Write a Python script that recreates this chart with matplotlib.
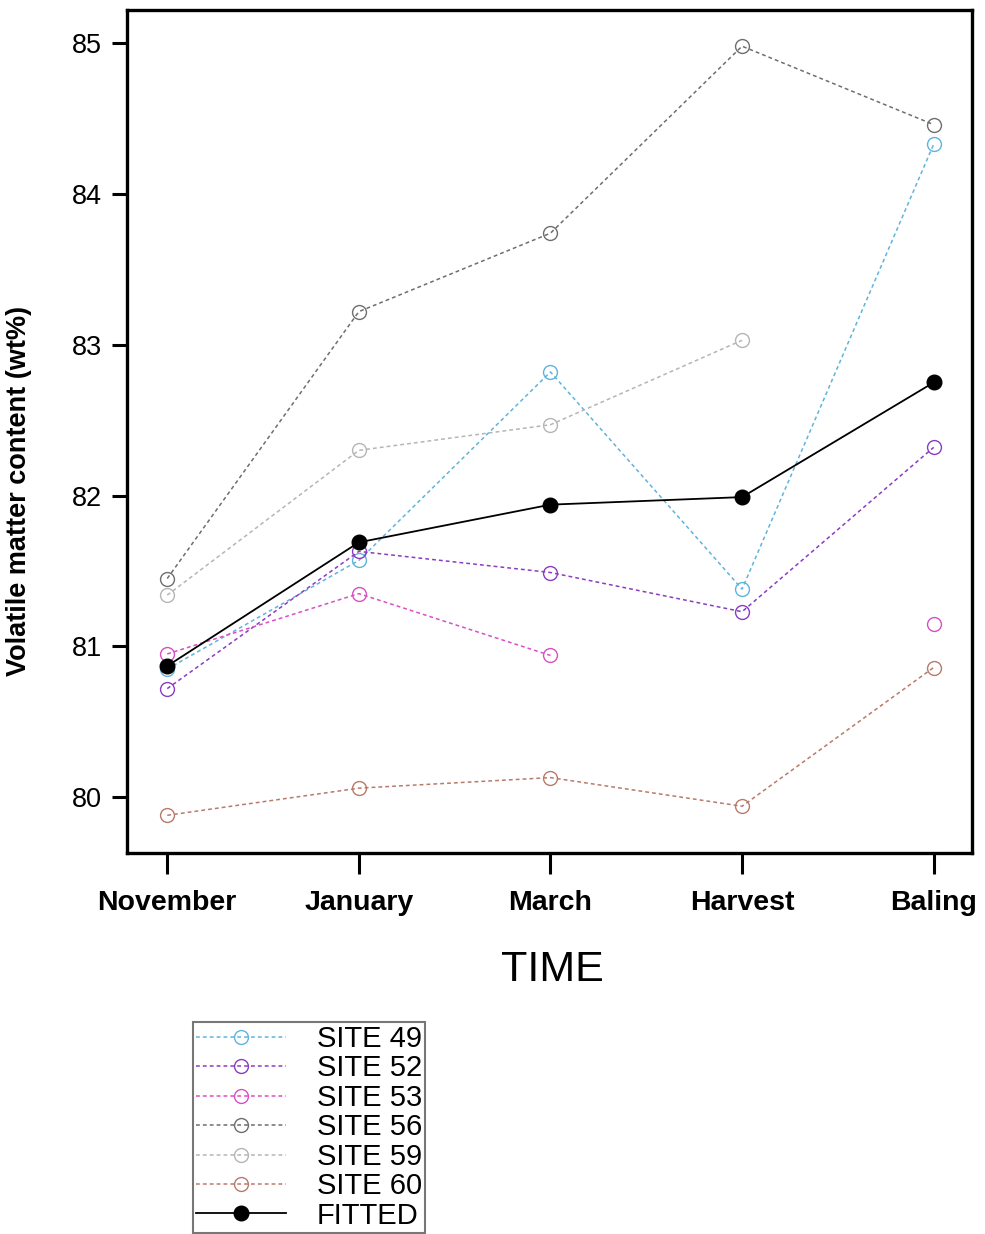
import matplotlib
matplotlib.use("Agg")
import matplotlib.pyplot as plt
import numpy as np

plt.rcParams["font.family"] = ["Liberation Sans", "DejaVu Sans"]

# --------------------------------------------------------------------- data
TIMES = ["November", "January", "March", "Harvest", "Baling"]

SITE_49 = [80.85, 81.57, 82.82, 81.38, 84.33]
SITE_52 = [80.72, 81.63, 81.49, 81.23, 82.32]
SITE_53 = [80.95, 81.35, 80.94, np.nan, 81.15]
SITE_56 = [81.45, 83.22, 83.74, 84.98, 84.46]
SITE_59 = [81.34, 82.30, 82.47, 83.03, np.nan]
SITE_60 = [79.88, 80.06, 80.13, 79.94, 80.86]
FITTED = [80.87, 81.69, 81.94, 81.99, 82.75]

SERIES = [
    ("SITE 49", SITE_49, "#5fb4dc"),
    ("SITE 52", SITE_52, "#8a3cc2"),
    ("SITE 53", SITE_53, "#d94fc4"),
    ("SITE 56", SITE_56, "#6e6e6e"),
    ("SITE 59", SITE_59, "#b5b5b5"),
    ("SITE 60", SITE_60, "#b87a6a"),
]

# ------------------------------------------------------------------- figure
fig = plt.figure(figsize=(9.85, 12.34), dpi=100)
ax = fig.add_axes([127 / 985, 1 - 853 / 1234, (972 - 127) / 985, (853 - 10) / 1234])

x = np.arange(len(TIMES))
for name, vals, col in SERIES:
    ax.plot(x, vals, linestyle=(0, (2.5, 2.0)), linewidth=1.1, color=col,
            marker="o", markersize=10, markerfacecolor="none",
            markeredgecolor=col, markeredgewidth=1.0, label=name)
ax.plot(x, FITTED, color="black", linewidth=1.3, marker="o", markersize=10.5,
        markerfacecolor="black", markeredgecolor="black", label="FITTED")

ax.set_xlim(-0.21, 4.2)
ax.set_ylim(79.63, 85.22)
ax.set_xticks(x)
ax.set_xticklabels(TIMES, fontsize=20.5, fontweight="bold")
ax.set_yticks([80, 81, 82, 83, 84, 85])
ax.tick_params(axis="y", labelsize=19.5, length=11, width=2.2, pad=7)
ax.tick_params(axis="x", length=15, width=2.2, pad=12)
for sp in ax.spines.values():
    sp.set_linewidth(2.4)

ax.set_ylabel("Volatile matter content (wt%)", fontsize=19.5, fontweight="bold")
ax.yaxis.set_label_coords(-0.113, 0.43)
fig.text(552 / 985, 1 - 970 / 1234, "TIME", fontsize=31, ha="center", va="center")

handles, labels = ax.get_legend_handles_labels()
leg = fig.legend(handles, labels, loc="upper left",
                 bbox_to_anchor=(193 / 985, 1 - 1022 / 1234),
                 fontsize=21, frameon=True, fancybox=False, edgecolor="#555555",
                 handlelength=3.1, handletextpad=1.05, labelspacing=0.05,
                 borderpad=0.1, borderaxespad=0, markerscale=1.0)
leg.get_frame().set_linewidth(1.5)

fig.savefig("out.png", dpi=100)
